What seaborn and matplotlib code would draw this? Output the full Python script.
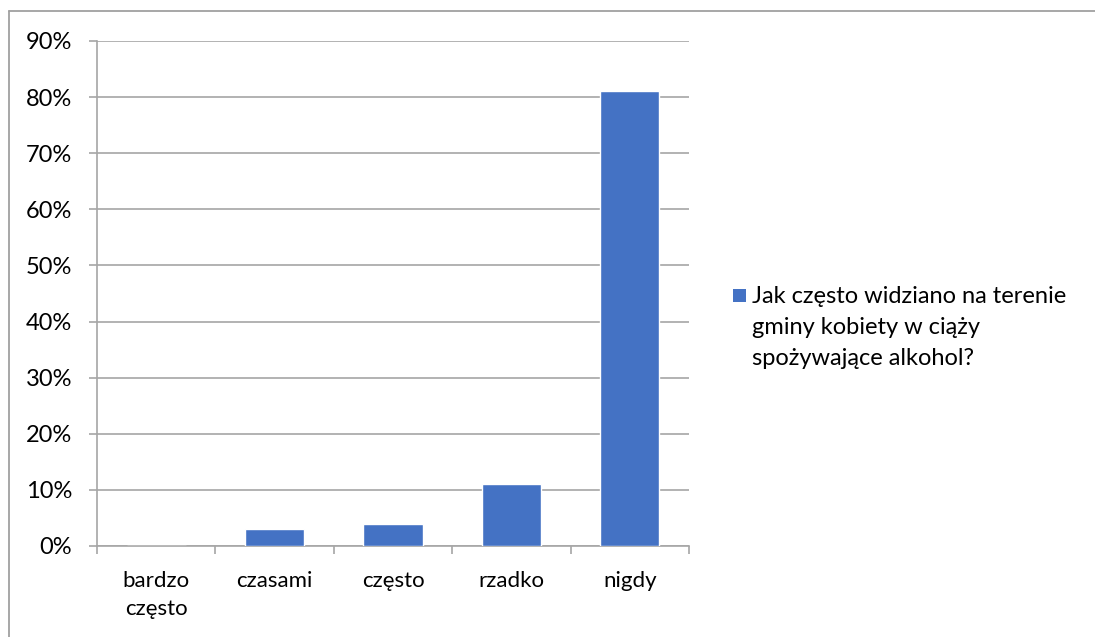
import matplotlib
matplotlib.use("Agg")
import matplotlib.pyplot as plt
from matplotlib.patches import Rectangle
from matplotlib.lines import Line2D
from matplotlib.ticker import FuncFormatter, MultipleLocator
import seaborn as sns
import pandas as pd

categories = ["bardzo\nczęsto", "czasami", "często", "rzadko", "nigdy"]
values = [0, 3, 4, 11, 81]
series_name = "Jak często widziano na terenie\ngminy kobiety w ciąży\nspożywające alkohol?"

sns.set_theme(style="white")
plt.rcParams["font.family"] = ["Lato", "DejaVu Sans"]

W, H = 1095, 637
FS_Y, FS_X, FS_LEG = 17, 16, 17
fig = plt.figure(figsize=(W / 100, H / 100), dpi=100)
ax = fig.add_axes([97 / W, 1 - 546 / H, (689 - 97) / W, (546 - 41) / H])

df = pd.DataFrame({"kategoria": categories, "procent": values})
bar_color = "#4472C4"
sns.barplot(data=df, x="kategoria", y="procent", color=bar_color, width=0.5,
            saturation=1, ax=ax, zorder=3)

grid_c = "#A6A6A6"
ax.set_ylim(0, 90)
ax.set_xlim(-0.5, len(categories) - 0.5)
ax.yaxis.set_major_locator(MultipleLocator(10))
ax.yaxis.set_major_formatter(FuncFormatter(lambda v, p: f"{v:.0f}%"))
ax.grid(axis="y", color=grid_c, linewidth=1.2, zorder=0)
ax.set_axisbelow(True)
ax.set_xlabel("")
ax.set_ylabel("")

for s in ["top", "right"]:
    ax.spines[s].set_visible(False)
for s in ["left", "bottom"]:
    ax.spines[s].set_color(grid_c)
    ax.spines[s].set_linewidth(1.2)

ax.tick_params(axis="y", length=5.8, width=1.2, color=grid_c, labelsize=FS_Y,
               pad=12, labelcolor="#000000", left=True)
# x ticks sit on the category boundaries, labels at the category centres
ax.set_xticks([i - 0.5 for i in range(len(categories) + 1)], minor=False)
ax.set_xticklabels([])
ax.set_xticks(range(len(categories)), minor=True)
ax.set_xticklabels(categories, minor=True, fontsize=FS_X, color="#000000",
                   linespacing=1.5)
ax.tick_params(axis="x", which="major", length=5.8, width=1.2, color=grid_c,
               bottom=True)
ax.tick_params(axis="x", which="minor", length=0, pad=18)

# legend on the right: colour key aligned with the first text line
fig.add_artist(Rectangle((733 / W, 1 - 302 / H), 13 / W, 13 / H,
                         facecolor=bar_color, edgecolor="none",
                         transform=fig.transFigure))
fig.text(752 / W, 1 - 286 / H, series_name, ha="left", va="top",
         fontsize=FS_LEG, color="#000000", linespacing=1.6)

# outer chart frame
frame_c = "#A0A0A0"
fig.add_artist(Line2D([8.5 / W, 8.5 / W], [0, 1 - 11 / H], color=frame_c,
                      linewidth=1.3, transform=fig.transFigure))
fig.add_artist(Line2D([8.5 / W, 1], [1 - 11 / H, 1 - 11 / H], color=frame_c,
                      linewidth=1.3, transform=fig.transFigure))

fig.savefig("out.png", dpi=100, facecolor="white")
